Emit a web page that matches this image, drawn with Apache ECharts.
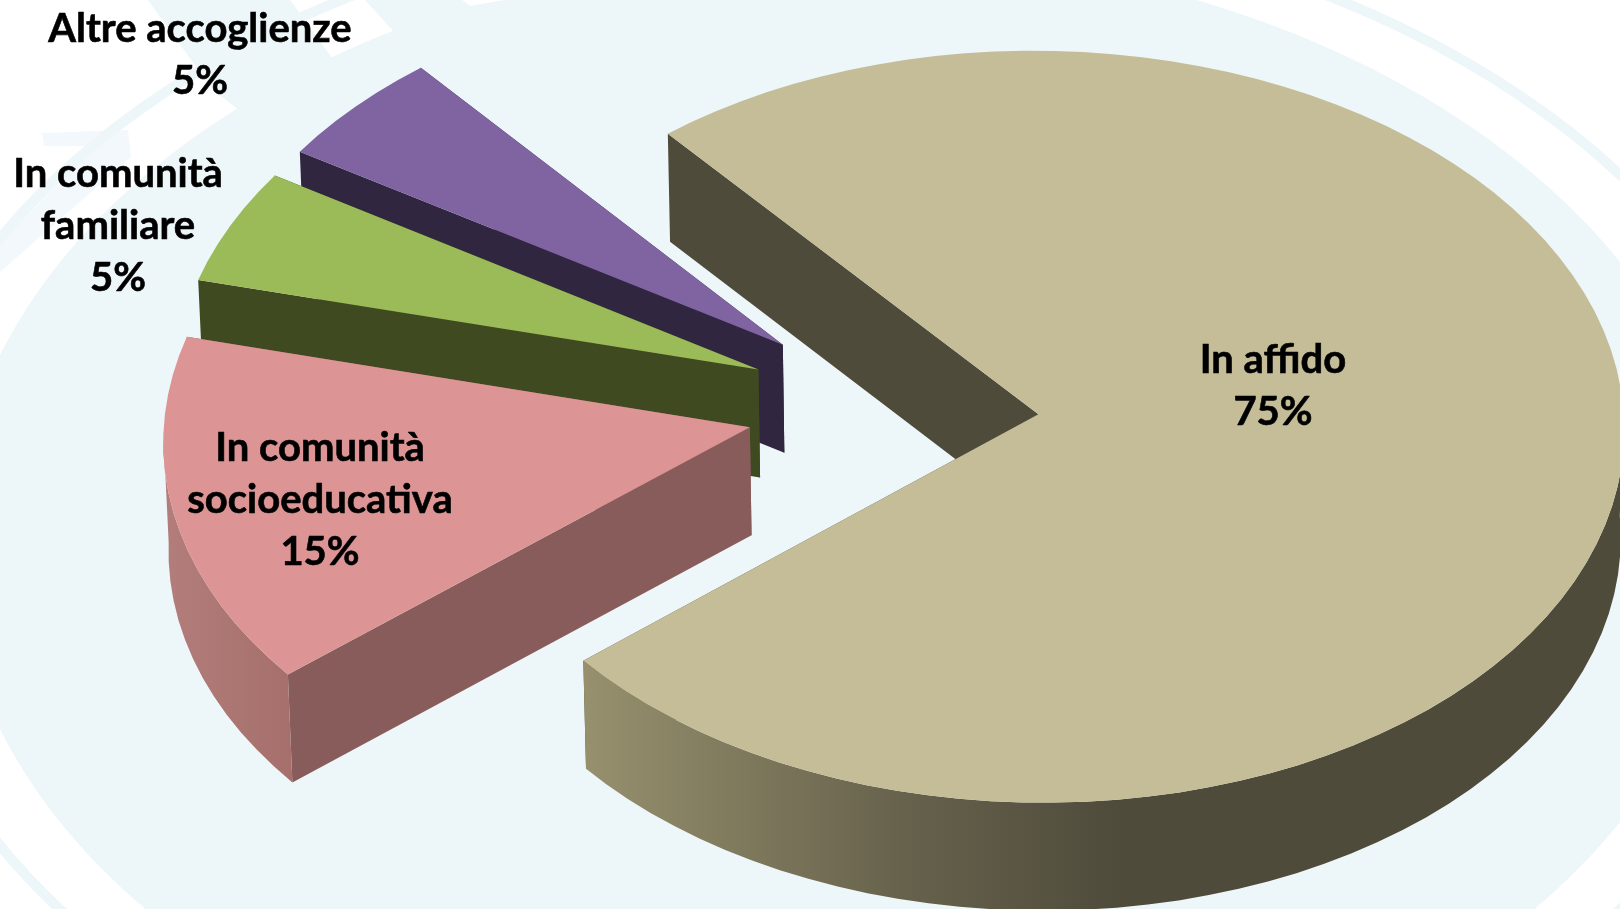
<!DOCTYPE html>
<html>
<head>
<meta charset="utf-8">
<title>Accoglienze</title>
<script src="https://cdn.jsdelivr.net/npm/echarts@6/dist/echarts.min.js"></script>
<style>
  html, body { margin: 0; padding: 0; background: #ffffff; }
  #chart { width: 1620px; height: 909px; }
</style>
</head>
<body>
<div id="chart"></div>
<script>
// Shares of each placement type, clockwise from the large slice.
const sliceNames = ['In affido', 'In comunità\nsocioeducativa', 'In comunità\nfamiliare', 'Altre accoglienze'];
const sliceValues = [75, 15, 5, 5];

// Face colours per slice.
const topColors = ['#c4bd97', '#dc9594', '#9bbb59', '#8064a2'];
const wallColors = ['#4f4b3b', '#895c5c', '#3f4a20', '#31263f'];
const rimStops = [
  [[0, '#98926f'], [0.6, '#67624c'], [1, '#4f4b3b']],
  [[0, '#b27d7a'], [1, '#a66f6c']],
  [[0, '#3f4a20'], [1, '#3f4a20']],
  [[0, '#31263f'], [1, '#31263f']]
];
const rimSpan = [[572, 1120], [165, 290], [190, 290], [290, 420]];

// Label centres on the page.
const labelCentres = [[1273, 386], [320, 500], [118, 226], [200, 55]];

// Projection of the tilted pie.
const pie = {
  cx: 892.6, cy: 406, rx: 585, ry: 375, tilt: 0.0333,
  depth: 108, shrink: 0.994, vanishX: 1036,
  explode: 0.25, startDeg: -40, stepDeg: 3
};

function project(u, v) {
  const w = 1 - pie.tilt * v;
  return [pie.cx + pie.rx * u / w, pie.cy + pie.ry * v / w];
}
function lower(p) {
  return [pie.vanishX + (p[0] - pie.vanishX) * pie.shrink, p[1] + pie.depth];
}

const total = sliceValues.reduce((a, b) => a + b, 0);

function sliceShapes(index, value) {
  let before = 0;
  for (let i = 0; i < index; i++) before += sliceValues[i];
  const a0 = pie.startDeg + before / total * 360;
  const a1 = a0 + value / total * 360;
  const mid = (a0 + a1) / 2 * Math.PI / 180;
  const ox = pie.explode * Math.sin(mid);
  const oy = -pie.explode * Math.cos(mid);
  const apex = project(ox, oy);
  const arc = [];
  const front = [];
  const steps = Math.ceil((a1 - a0) / pie.stepDeg);
  for (let s = 0; s <= steps; s++) {
    const t = (a0 + (a1 - a0) * s / steps) * Math.PI / 180;
    const p = project(ox + Math.sin(t), oy - Math.cos(t));
    arc.push(p);
    // Only the part of the rim facing the viewer is drawn as a wall.
    if (-Math.cos(t) >= -0.03) front.push(p);
  }
  return { apex, arc, front };
}

function renderSlice(params, api) {
  const i = params.dataIndex;
  const value = api.value(0);
  const { apex, arc, front } = sliceShapes(i, value);
  const base = (sliceValues.length - i) * 10;
  const first = arc[0];
  const last = arc[arc.length - 1];
  const poly = (points, fill, z) => ({
    type: 'polygon', shape: { points }, style: { fill }, z2: base + z, silent: true
  });
  const rimFill = new echarts.graphic.LinearGradient(
    rimSpan[i][0], 0, rimSpan[i][1], 0,
    rimStops[i].map(s => ({ offset: s[0], color: s[1] })), true
  );
  const children = [
    poly([apex, first, lower(first), lower(apex)], wallColors[i], 0),
    poly([apex, last, lower(last), lower(apex)], wallColors[i], 0)
  ];
  if (front.length > 1) {
    children.push(poly(front.concat(front.map(lower).reverse()), rimFill, 1));
  }
  children.push(poly([apex].concat(arc), topColors[i], 2));
  children.push({
    type: 'text',
    x: labelCentres[i][0],
    y: labelCentres[i][1],
    z2: 100,
    silent: true,
    style: {
      text: sliceNames[i] + '\n' + value + '%',
      fontFamily: 'Lato',
      fontWeight: 700,
      fontSize: 40,
      lineHeight: 52,
      fill: '#000000',
      stroke: '#000000',
      lineWidth: 0.6,
      textAlign: 'center',
      textVerticalAlign: 'middle'
    }
  });
  return { type: 'group', children };
}

// Decorative backdrop: a pale disc with a thin outer ring and a swoosh at the upper left.
const pale = '#edf6f9';
const backdrop = [
  { type: 'ellipse', shape: { cx: 840, cy: 542, rx: 956, ry: 635 },
    style: { fill: 'none', stroke: pale, lineWidth: 10 } },
  { type: 'ellipse', shape: { cx: 840, cy: 542, rx: 885, ry: 592 }, style: { fill: pale } },
  // Pale wedge running off the top edge between the two arrow tips.
  { type: 'polygon', shape: { points: [[148, 0], [290, 0], [335, 62], [243, 113], [213, 90]] },
    style: { fill: pale } },
  // Pale strip along the top, to the right of the upper arrow tip.
  { type: 'polygon', shape: { points: [[365, 0], [560, 0], [560, 60], [395, 33]] },
    style: { fill: pale } },
  { type: 'polygon', shape: { points: [[462, 0], [505, 0], [470, 6]] }, style: { fill: '#ffffff' } },
  // Faint arrow outline at the far left.
  { type: 'polygon', shape: { points: [[42, 133], [128, 130], [131, 157], [0, 272], [0, 243], [95, 146], [44, 146]] },
    style: { fill: pale, opacity: 0.75 } }
];
backdrop.forEach(g => { g.silent = true; g.z = -10; });

const chart = echarts.init(document.getElementById('chart'));
chart.setOption({
  backgroundColor: '#ffffff',
  animation: false,
  tooltip: { show: false },
  graphic: { elements: backdrop },
  series: [{
    type: 'custom',
    coordinateSystem: 'none',
    renderItem: renderSlice,
    clip: false,
    silent: true,
    data: sliceValues.map((v, i) => ({ name: sliceNames[i], value: v }))
  }]
});
</script>
</body>
</html>
